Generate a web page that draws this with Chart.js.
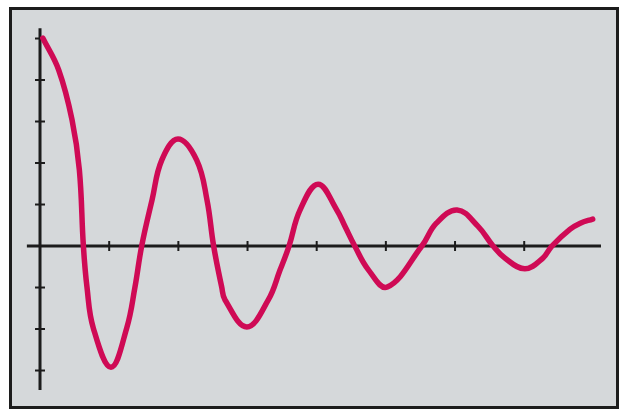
<!DOCTYPE html>
<html>
<head>
<meta charset="utf-8">
<script src="https://cdn.jsdelivr.net/npm/chart.js@4/dist/chart.umd.min.js"></script>
<style>
html,body{margin:0;padding:0;background:#fff;}
#wrap{width:627px;height:416px;}
</style>
</head>
<body>
<div id="wrap"><canvas id="c" width="627" height="416"></canvas></div>
<script>
// Curve samples (x and y in tick units)
const curveX = [0.04,0.27,0.463,0.569,0.627,0.679,0.771,1.026,1.253,1.373,1.47,1.62,1.76,1.995,2.265,2.414,2.51,2.627,2.675,2.99,3.30,3.47,3.60,3.76,4.02,4.29,4.41,4.55,4.75,5.02,5.52,5.73,6.03,6.33,6.55,6.72,7.01,7.27,7.40,7.66,7.81,7.99];
const curveY = [5.01,4.24,3.04,1.83,0.0,-0.99,-1.98,-2.92,-1.98,-0.99,0.0,1.11,2.07,2.58,2.07,1.11,0.0,-0.99,-1.30,-1.95,-1.30,-0.58,0.0,0.87,1.49,0.87,0.47,0.0,-0.58,-0.99,0.0,0.55,0.87,0.48,0.0,-0.29,-0.55,-0.29,0.0,0.40,0.55,0.65];
// Axis tick positions
const xTicks = [1,2,3,4,5,6,7];
const yTicks = [-3,-2,-1,1,2,3,4,5];
// Axis extents
const xAxisRange = [-0.19, 8.11];
const yAxisRange = [-3.47, 5.25];

const points = curveX.map((x,i)=>({x:x,y:curveY[i]}));

const framePlugin = {
  id:'frame',
  beforeDraw(chart){
    const {ctx, chartArea:a} = chart;
    ctx.save();
    ctx.fillStyle = '#d5d8da';
    ctx.fillRect(a.left, a.top, a.right-a.left, a.bottom-a.top);
    ctx.strokeStyle = '#1c1c1c';
    ctx.lineWidth = 3;
    ctx.strokeRect(a.left-1.5, a.top-1.5, a.right-a.left+3, a.bottom-a.top+3);
    ctx.restore();
  },
  beforeDatasetsDraw(chart){
    const {ctx, scales:{x,y}} = chart;
    ctx.save();
    ctx.strokeStyle = '#1c1c1c';
    ctx.lineCap = 'butt';
    ctx.lineWidth = 3;
    ctx.beginPath();
    ctx.moveTo(x.getPixelForValue(xAxisRange[0]), y.getPixelForValue(0));
    ctx.lineTo(x.getPixelForValue(xAxisRange[1]), y.getPixelForValue(0));
    ctx.stroke();
    ctx.beginPath();
    ctx.moveTo(x.getPixelForValue(0), y.getPixelForValue(yAxisRange[1]));
    ctx.lineTo(x.getPixelForValue(0), y.getPixelForValue(yAxisRange[0]));
    ctx.stroke();
    ctx.lineWidth = 2;
    const y0 = y.getPixelForValue(0), x0 = x.getPixelForValue(0);
    xTicks.forEach(t=>{
      const px = x.getPixelForValue(t);
      ctx.beginPath(); ctx.moveTo(px, y0-5); ctx.lineTo(px, y0+5); ctx.stroke();
    });
    yTicks.forEach(t=>{
      const py = y.getPixelForValue(t);
      ctx.beginPath(); ctx.moveTo(x0-5, py); ctx.lineTo(x0+5, py); ctx.stroke();
    });
    ctx.restore();
  }
};

new Chart(document.getElementById('c'), {
  type:'line',
  data:{datasets:[{
    data:points,
    borderColor:'#cf0a55',
    borderWidth:5.5,
    pointRadius:0,
    tension:0.4,
    borderCapStyle:'round',
    borderJoinStyle:'round',
    fill:false
  }]},
  options:{
    responsive:false,
    animation:false,
    layout:{padding:{left:12,top:10,right:11,bottom:10}},
    plugins:{legend:{display:false},tooltip:{enabled:false}},
    scales:{
      x:{type:'linear',display:false,min:-0.405,max:8.327},
      y:{type:'linear',display:false,min:-3.855,max:5.687}
    }
  },
  plugins:[framePlugin]
});
</script>
</body>
</html>
